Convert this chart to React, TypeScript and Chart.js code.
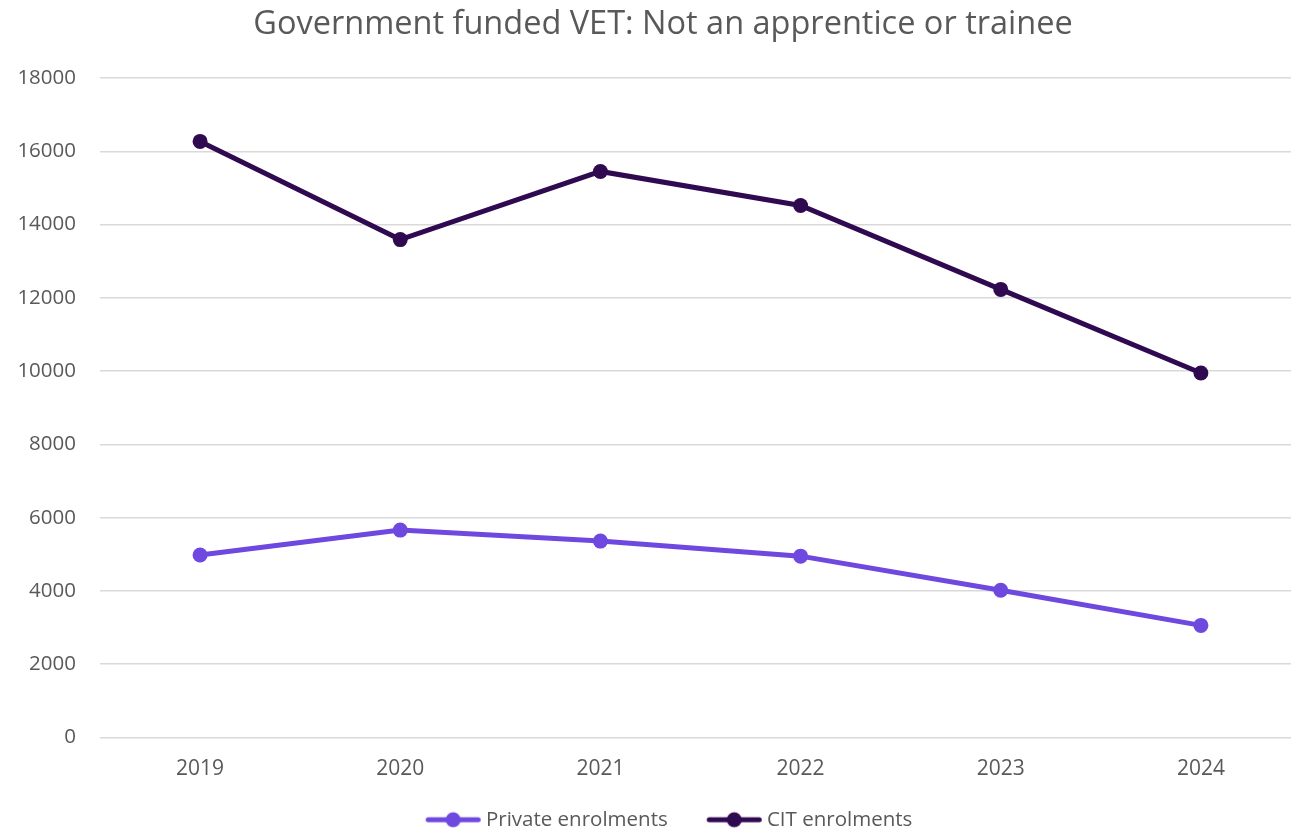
import React, { useEffect, useRef } from "react";
import { Chart, registerables } from "chart.js";

Chart.register(...registerables);

const TITLE = "Government funded VET: Not an apprentice or trainee";
const YEARS = ["2019", "2020", "2021", "2022", "2023", "2024"];
const PRIVATE_ENROLMENTS = [4980, 5660, 5360, 4950, 4020, 3060];
const CIT_ENROLMENTS = [16270, 13590, 15450, 14520, 12230, 9950];
const SERIES_NAMES = ["Private enrolments", "CIT enrolments"];
const SERIES_COLORS = ["#6F48DF", "#300A50"];
const Y_MIN = 0;
const Y_MAX = 18000;
const Y_STEP = 2000;

const FONT = "'Open Sans', 'Noto Sans', sans-serif";
const TEXT = "#595959";

// legend swatch: line with a dot, drawn on the right part of a wider transparent image
function legendImage(color: string): HTMLCanvasElement {
  const c = document.createElement("canvas");
  c.width = 80;
  c.height = 18;
  const ctx = c.getContext("2d")!;
  ctx.strokeStyle = color;
  ctx.lineWidth = 5;
  ctx.lineCap = "round";
  ctx.beginPath();
  ctx.moveTo(23.5, 9);
  ctx.lineTo(73.5, 9);
  ctx.stroke();
  ctx.fillStyle = color;
  ctx.beginPath();
  ctx.arc(48.5, 9, 7.5, 0, Math.PI * 2);
  ctx.fill();
  return c;
}

export default function App() {
  const ref = useRef<HTMLCanvasElement>(null);

  useEffect(() => {
    const canvas = ref.current!;
    const imgs = SERIES_COLORS.map(legendImage);
    const chart = new Chart(canvas, {
      type: "line",
      data: {
        labels: YEARS,
        datasets: [
          {
            label: SERIES_NAMES[0],
            data: PRIVATE_ENROLMENTS,
            borderColor: SERIES_COLORS[0],
            backgroundColor: SERIES_COLORS[0],
            borderWidth: 5,
            pointRadius: 7.5,
            pointHoverRadius: 7.5,
            pointBorderWidth: 0,
            pointBackgroundColor: SERIES_COLORS[0],
            pointStyle: "circle",
            tension: 0,
            yAxisID: "y",
          },
          {
            label: SERIES_NAMES[1],
            data: CIT_ENROLMENTS,
            borderColor: SERIES_COLORS[1],
            backgroundColor: SERIES_COLORS[1],
            borderWidth: 5,
            pointRadius: 7.5,
            pointHoverRadius: 7.5,
            pointBorderWidth: 0,
            pointBackgroundColor: SERIES_COLORS[1],
            pointStyle: "circle",
            tension: 0,
            yAxisID: "y",
          },
        ],
      },
      options: {
        responsive: false,
        animation: false,
        layout: { padding: 0 },
        plugins: {
          title: {
            display: true,
            text: TITLE,
            color: TEXT,
            font: { family: FONT, size: 32.5, weight: "normal" },
            padding: { top: 5, bottom: 34 },
          },
          legend: {
            display: true,
            position: "bottom",
            labels: {
              color: TEXT,
              font: { family: FONT, size: 20.5 },
              usePointStyle: true,
              pointStyleWidth: 62,
              padding: 27,
              generateLabels: (ch: any) =>
                ch.data.datasets.map((ds: any, i: number) => ({
                  text: ds.label,
                  fillStyle: ds.borderColor,
                  strokeStyle: ds.borderColor,
                  pointStyle: imgs[i],
                  lineWidth: 0,
                  hidden: false,
                  datasetIndex: i,
                  fontColor: TEXT,
                })),
            },
          },
          tooltip: { enabled: false },
        },
        scales: {
          x: {
            offset: true,
            grid: { display: false, drawTicks: false },
            border: { display: false },
            ticks: {
              color: TEXT,
              font: { family: FONT, size: 21 },
              padding: 19,
            },
            afterFit: (s: any) => {
              s.height = 45;
            },
          },
          y: {
            position: "left",
            min: Y_MIN,
            max: Y_MAX,
            grid: { color: "#d9d9d9", lineWidth: 1.5, drawTicks: false },
            border: { display: false },
            ticks: {
              stepSize: Y_STEP,
              color: TEXT,
              font: { family: FONT, size: 20.5 },
              padding: 24,
              callback: (v: any) => String(v),
            },
            afterFit: (s: any) => {
              s.width = 100;
            },
          },
          spacer: {
            type: "linear",
            position: "right",
            min: Y_MIN,
            max: Y_MAX,
            grid: { display: false, drawTicks: false },
            border: { display: false },
            ticks: { display: false },
            afterFit: (s: any) => {
              s.width = 25;
            },
          },
        },
      },
    });
    return () => chart.destroy();
  }, []);

  return (
    <div style={{ position: "fixed", left: 0, top: 0, width: 1291, height: 832, overflow: "hidden", background: "#fff" }}>
      <canvas ref={ref} width={1326} height={840} style={{ display: "block" }} />
    </div>
  );
}
